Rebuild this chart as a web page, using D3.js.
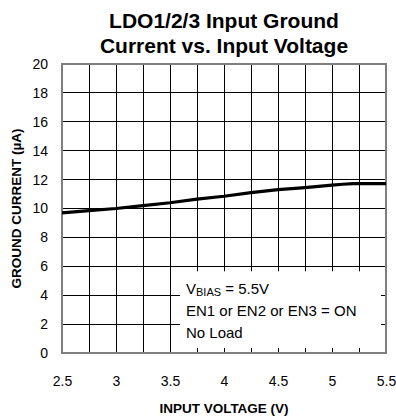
<!DOCTYPE html>
<html>
<head>
<meta charset="utf-8">
<script src="https://cdn.jsdelivr.net/npm/d3@7"></script>
<style>
  html, body { margin: 0; padding: 0; background: #fff; }
  svg { display: block; font-family: "Liberation Sans", Arial, sans-serif; }
</style>
</head>
<body>
<div id="chart"></div>
<script>
// ---- data ----
const titleLines = ["LDO1/2/3 Input Ground", "Current vs. Input Voltage"];
const xLabel = "INPUT VOLTAGE (V)";
const yLabel = "GROUND CURRENT (\u00B5A)";
const xTicks = [2.5, 3, 3.5, 4, 4.5, 5, 5.5];
const xTickLabels = ["2.5", "3", "3.5", "4", "4.5", "5", "5.5"];
const xGrid = [2.75, 3, 3.25, 3.5, 3.75, 4, 4.25, 4.5, 4.75, 5, 5.25];
const yTicks = [0, 2, 4, 6, 8, 10, 12, 14, 16, 18, 20];
const voltage = [2.5, 2.75, 3.0, 3.25, 3.5, 3.75, 4.0, 4.25, 4.5, 4.75, 5.0, 5.1, 5.2, 5.35, 5.5];
const current = [9.7, 9.85, 10.0, 10.2, 10.4, 10.65, 10.85, 11.1, 11.3, 11.45, 11.62, 11.68, 11.72, 11.72, 11.72];
const noteLines = [["V", "BIAS", " = 5.5V"], ["EN1 or EN2 or EN3 = ON"], ["No Load"]];

// ---- layout ----
const W = 396, H = 418;
const m = { left: 62, right: 10, top: 64, bottom: 65 };
const iw = W - m.left - m.right, ih = H - m.top - m.bottom;

const svg = d3.select("#chart").append("svg").attr("width", W).attr("height", H);

const x = d3.scaleLinear().domain([2.5, 5.5]).range([m.left, m.left + iw]);
const y = d3.scaleLinear().domain([0, 20]).range([m.top + ih, m.top]);

// title
svg.append("g").selectAll("text").data(titleLines).join("text")
  .attr("x", x(4)).attr("y", (d, i) => 28 + i * 25)
  .attr("text-anchor", "middle").attr("font-weight", "bold").attr("font-size", 21)
  .text(d => d);

// grid
const g = svg.append("g");
g.selectAll("line.v").data(xGrid).join("line").attr("class", "v")
  .attr("x1", d => x(d)).attr("x2", d => x(d)).attr("y1", y(20)).attr("y2", y(0))
  .attr("stroke", "#000").attr("stroke-width", 1).attr("shape-rendering", "crispEdges");
g.selectAll("line.h").data(yTicks.slice(1, -1)).join("line").attr("class", "h")
  .attr("x1", x(2.5)).attr("x2", x(5.5)).attr("y1", d => y(d)).attr("y2", d => y(d))
  .attr("stroke", "#000").attr("stroke-width", 1).attr("shape-rendering", "crispEdges");

// note box (covers grid)
const bx0 = x(3.5) + 10, bx1 = x(5.5) - 5, by0 = y(6) + 5, by1 = y(0) - 5;
svg.append("rect").attr("x", bx0).attr("y", by0).attr("width", bx1 - bx0).attr("height", by1 - by0)
  .attr("fill", "#fff");

const note = svg.append("g").attr("font-size", 15);
noteLines.forEach((parts, i) => {
  const t = note.append("text").attr("x", bx0 + 6).attr("y", y(4) - 1 + i * 22);
  if (parts.length === 3) {
    t.append("tspan").text(parts[0]);
    t.append("tspan").attr("font-size", 11).attr("dy", 2).text(parts[1]);
    t.append("tspan").attr("dy", -2).text(parts[2]);
  } else {
    t.text(parts[0]);
  }
});

// frame
svg.append("rect").attr("x", x(2.5)).attr("y", y(20)).attr("width", x(5.5) - x(2.5)).attr("height", y(0) - y(20))
  .attr("fill", "none").attr("stroke", "#7f7f7f").attr("stroke-width", 2);

// data line
svg.append("path").datum(voltage.map((v, i) => [v, current[i]]))
  .attr("d", d3.line().x(d => x(d[0])).y(d => y(d[1])))
  .attr("fill", "none").attr("stroke", "#000").attr("stroke-width", 3.2);

// axes
const xAxis = svg.append("g").attr("transform", `translate(0,${y(0)})`)
  .call(d3.axisBottom(x).tickValues(xTicks).tickFormat((d, i) => xTickLabels[i]).tickSize(0).tickPadding(23));
xAxis.select(".domain").remove();
xAxis.selectAll("text").attr("font-size", 14).attr("fill", "#000").attr("font-family", null);

const yAxis = svg.append("g").attr("transform", `translate(${x(2.5)},0)`)
  .call(d3.axisLeft(y).tickValues(yTicks).tickSize(0).tickPadding(14));
yAxis.select(".domain").remove();
yAxis.selectAll("text").attr("font-size", 14).attr("fill", "#000").attr("font-family", null);

// axis titles
svg.append("text").attr("x", x(4)).attr("y", 413).attr("text-anchor", "middle")
  .attr("font-weight", "bold").attr("font-size", 13.5).text(xLabel);
svg.append("text").attr("transform", `translate(21,${(y(0) + y(20)) / 2}) rotate(-90)`)
  .attr("text-anchor", "middle").attr("font-weight", "bold").attr("font-size", 13.5).text(yLabel);
</script>
</body>
</html>
